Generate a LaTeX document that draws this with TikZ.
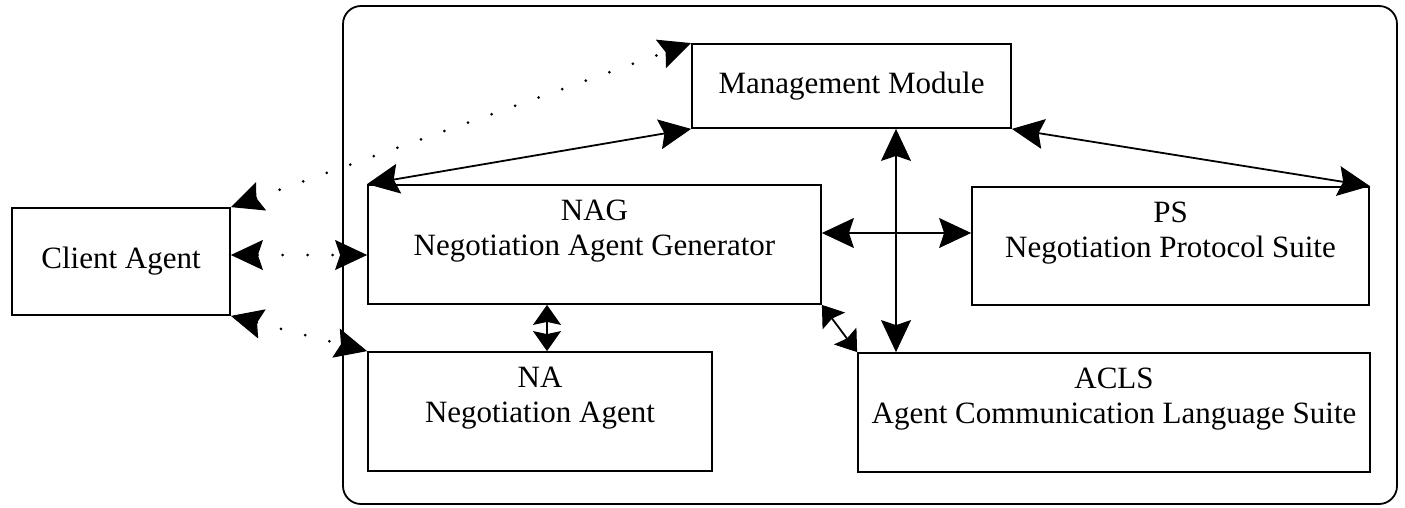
\documentclass[tikz,border=0pt]{standalone}
\usepackage{fontspec}
\setmainfont{Liberation Serif}
\usetikzlibrary{arrows.meta}

\tikzset{
  box/.style={draw, line width=1.8pt, rectangle, inner sep=0pt},
  frame/.style={draw, line width=1.8pt, rectangle, rounded corners=18pt, inner sep=0pt},
  lbl/.style={font=\fontsize{31}{35}\selectfont, align=center, inner sep=0pt, anchor=north},
  bighead/.style={>={Stealth[length=32pt, width=30pt, inset=5pt, line width=1pt]}},
  smallhead/.style={>={Stealth[length=20pt, width=28pt, inset=3pt, line width=1pt]}},
  link/.style={line width=1.8pt, bighead, <->},
  shortlink/.style={line width=1.8pt, smallhead, <->},
  dotlink/.style={line width=3pt, line cap=round, dash pattern=on 0pt off 25pt, bighead, <->},
}

\begin{document}
\begin{tikzpicture}[x=1pt, y=-1pt]
  \useasboundingbox (0,0) rectangle (1405,508);

  % enclosing system frame
  \node[frame, minimum width=1054pt, minimum height=498pt] (sys) at (870,255) {};

  % components
  \node[box, minimum width=218pt, minimum height=107pt] (client) at (121,261.5) {};
  \node[box, minimum width=319pt, minimum height=84pt]  (mm)     at (851.5,86) {};
  \node[box, minimum width=453pt, minimum height=119pt] (nag)    at (594.5,244.5) {};
  \node[box, minimum width=397pt, minimum height=118pt] (ps)     at (1170.5,246) {};
  \node[box, minimum width=344pt, minimum height=119pt] (na)     at (540,411.5) {};
  \node[box, minimum width=512pt, minimum height=119pt] (acls)   at (1114,412.5) {};

  % labels
  \node[lbl, anchor=center] (clientlbl) at (client.center) {Client Agent};
  \node[lbl, anchor=center] (mmlbl) at (mm.center) {Management Module};
  \node[lbl] (naglbl)  at ([yshift=-16pt]nag.north)  {NAG\\Negotiation Agent Generator};
  \node[lbl] (pslbl)   at ([yshift=-16pt]ps.north)   {PS\\Negotiation Protocol Suite};
  \node[lbl] (nalbl)   at ([yshift=-16pt]na.north)   {NA\\Negotiation Agent};
  \node[lbl] (aclslbl) at ([yshift=-16pt]acls.north) {ACLS\\Agent Communication Language Suite};

  % reference columns / rows for straight connectors
  \coordinate (vcol) at (896,0);
  \coordinate (nacol) at (547,0);
  \coordinate (psrow) at (0,233);
  \coordinate (clrow) at (0,255);

  % client agent links (dotted)
  \draw[dotlink] (client.north east) -- (mm.north west);
  \draw[dotlink] (client.east |- clrow) -- (nag.west |- clrow);
  \draw[dotlink] (client.south east) -- (na.north west);

  % internal links
  \draw[link] (nag.north west) -- (mm.south west);
  \draw[link] (mm.south east) -- (ps.north east);
  \draw[link] (mm.south -| vcol) -- (acls.north -| vcol);
  \draw[link] (nag.east |- psrow) -- (ps.west |- psrow);
  \draw[shortlink] (nag.south -| nacol) -- (na.north -| nacol);
  \draw[shortlink] (nag.south east) -- (acls.north west);
\end{tikzpicture}
\end{document}
